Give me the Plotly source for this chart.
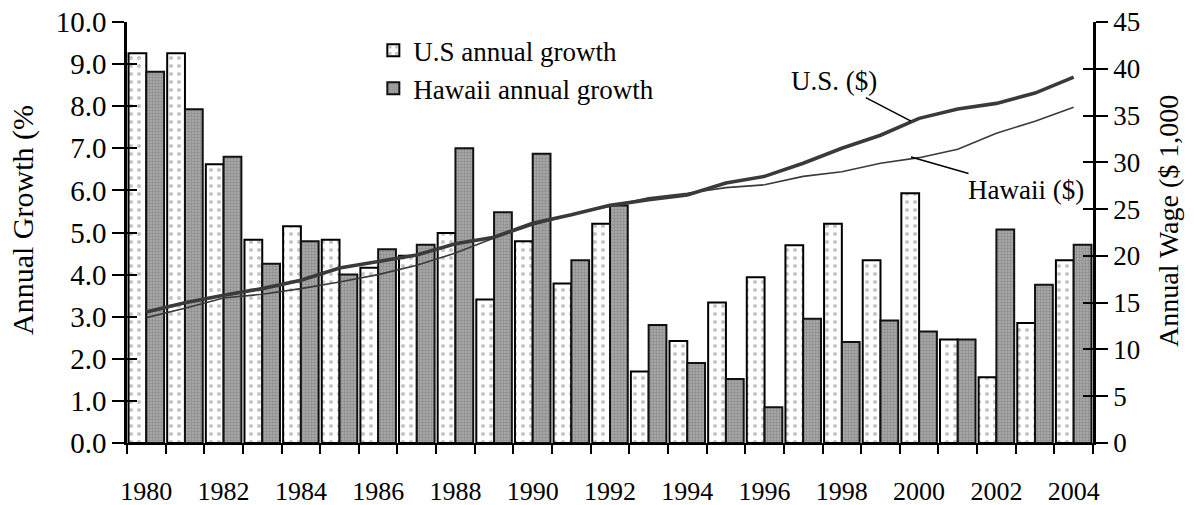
import plotly.graph_objects as go

years = list(range(1980, 2005))
us_growth = [9.26, 9.26, 6.62, 4.83, 5.15, 4.83, 4.16, 4.45, 4.99, 3.41, 4.79, 3.79, 5.21,
             1.70, 2.42, 3.34, 3.94, 4.70, 5.21, 4.34, 5.93, 2.46, 1.56, 2.85, 4.34]
hi_growth = [8.82, 7.93, 6.80, 4.26, 4.79, 4.00, 4.60, 4.71, 7.00, 5.48, 6.87, 4.34, 5.64,
             2.80, 1.90, 1.52, 0.85, 2.95, 2.40, 2.91, 2.65, 2.46, 5.07, 3.76, 4.71]
us_wage = [14.0, 15.0, 15.8, 16.5, 17.4, 18.7, 19.4, 20.1, 21.3, 22.0, 23.5, 24.4, 25.4,
           26.0, 26.5, 27.8, 28.5, 29.9, 31.5, 32.9, 34.7, 35.7, 36.3, 37.4, 39.1]
hi_wage = [13.4, 14.4, 15.5, 15.9, 16.5, 17.2, 18.0, 19.0, 20.3, 21.9, 23.3, 24.4, 25.3,
           26.2, 26.7, 27.3, 27.6, 28.5, 29.0, 29.9, 30.5, 31.4, 33.1, 34.4, 35.9]
x_labels = [str(y) for y in range(1980, 2005, 2)]
left_ticks = [i * 1.0 for i in range(11)]
right_ticks = list(range(0, 50, 5))

FONT = "Liberation Serif"
FS = 27
fig = go.Figure()

fig.add_trace(go.Bar(
    x=years, y=us_growth, name="U.S annual growth",
    marker=dict(color="white", line=dict(color="black", width=2),
                pattern=dict(shape=".", fgcolor="#8a8a8a", bgcolor="white", size=8, solidity=0.22)),
))
fig.add_trace(go.Bar(
    x=years, y=hi_growth, name="Hawaii annual growth",
    marker=dict(color="#999999", line=dict(color="#111111", width=2),
                pattern=dict(shape=".", fgcolor="#6e6e6e", bgcolor="#adadad", size=3, solidity=0.5)),
))
fig.add_trace(go.Scatter(
    x=years, y=hi_wage, yaxis="y2", mode="lines", showlegend=False,
    line=dict(color="#3a3a3a", width=1.6),
))
fig.add_trace(go.Scatter(
    x=years, y=us_wage, yaxis="y2", mode="lines", showlegend=False,
    line=dict(color="#3a3a3a", width=3.6),
))
# dummy traces so that the inside-tick overlay axes render
fig.add_trace(go.Scatter(x=[None], y=[None], yaxis="y3", showlegend=False, hoverinfo="skip"))
fig.add_trace(go.Scatter(x=[None], y=[None], yaxis="y4", showlegend=False, hoverinfo="skip"))

fig.update_layout(
    width=1194, height=505,
    margin=dict(l=127, r=101, t=22, b=62, autoexpand=False),
    paper_bgcolor="white", plot_bgcolor="white",
    font=dict(family=FONT, size=FS, color="black"),
    barmode="group", bargap=0.08, bargroupgap=0.0,
    showlegend=True,
    legend=dict(x=0.255, y=0.99, xanchor="left", yanchor="top",
                bgcolor="rgba(0,0,0,0)", font=dict(family=FONT, size=FS),
                tracegroupgap=0),
    xaxis=dict(
        range=[1979.5, 2004.5], tickmode="array",
        tickvals=list(range(1980, 2005, 2)), ticktext=x_labels,
        ticks="outside", ticklen=24, tickcolor="rgba(0,0,0,0)",
        showline=True, linecolor="black", linewidth=2, showgrid=False, zeroline=False,
        minor=dict(tick0=1979.5, dtick=1, ticks="outside", ticklen=9,
                   tickcolor="black", tickwidth=2, showgrid=False),
        tickfont=dict(family=FONT, size=26), automargin=False,
    ),
    yaxis=dict(
        range=[0, 10], tickmode="array", tickvals=left_ticks,
        ticktext=[f"{v:.1f}" for v in left_ticks],
        ticks="outside", ticklen=12, tickwidth=2, tickcolor="black",
        showline=True, linecolor="black", linewidth=2.5, showgrid=False, zeroline=False,
        tickfont=dict(family=FONT, size=29), automargin=False,
    ),
    yaxis2=dict(
        range=[0, 45], overlaying="y", side="right", anchor="x",
        tickmode="array", tickvals=right_ticks,
        ticks="outside", ticklen=12, tickwidth=2, tickcolor="black",
        showline=True, linecolor="black", linewidth=2.5, showgrid=False, zeroline=False,
        tickfont=dict(family=FONT, size=FS), automargin=False,
    ),
    yaxis3=dict(
        range=[0, 10], overlaying="y", side="left", anchor="x",
        tickmode="array", tickvals=left_ticks, showticklabels=False,
        ticks="inside", ticklen=10, tickwidth=2, tickcolor="black",
        showline=False, showgrid=False, zeroline=False, automargin=False,
    ),
    yaxis4=dict(
        range=[0, 45], overlaying="y", side="right", anchor="x",
        tickmode="array", tickvals=right_ticks, showticklabels=False,
        ticks="inside", ticklen=10, tickwidth=2, tickcolor="black",
        showline=False, showgrid=False, zeroline=False, automargin=False,
    ),
)

# axis titles placed as annotations
fig.add_annotation(text="Annual Growth (%", xref="paper", yref="paper",
                   x=(23 - 127) / 966, y=(443 - 220) / 421, textangle=-90,
                   showarrow=False, xanchor="center", yanchor="middle",
                   font=dict(family=FONT, size=30))
fig.add_annotation(text="Annual Wage ($ 1,000", xref="paper", yref="paper",
                   x=(1168 - 127) / 966, y=(443 - 221) / 421, textangle=-90,
                   showarrow=False, xanchor="center", yanchor="middle",
                   font=dict(family=FONT, size=28))

fig.add_annotation(x=1999.79, y=34.4, yref="y2", xref="x", text="U.S. ($)",
                   showarrow=True, arrowhead=0, arrowwidth=1.5, arrowcolor="black",
                   ax=-77, ay=-40, font=dict(family=FONT, size=FS))
fig.add_annotation(x=1999.79, y=30.57, yref="y2", xref="x", text="Hawaii ($)",
                   showarrow=True, arrowhead=0, arrowwidth=1.5, arrowcolor="black",
                   ax=115, ay=33, font=dict(family=FONT, size=FS))

fig.write_html("out.html", config={"displayModeBar": False},
               post_script="document.body.style.margin='0';document.body.style.overflow='hidden';")
